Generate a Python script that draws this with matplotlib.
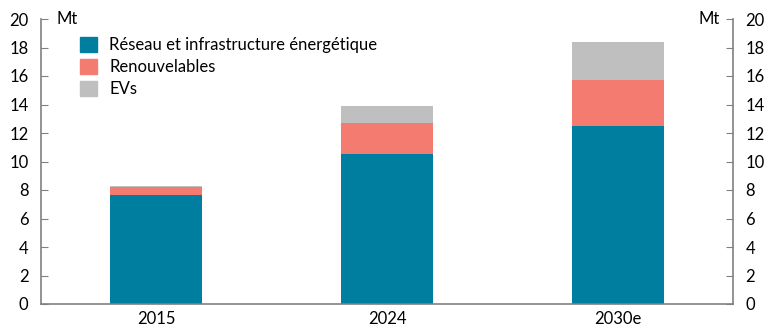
import matplotlib
matplotlib.use("Agg")
import matplotlib.pyplot as plt
from matplotlib.patches import Patch

plt.rcParams['font.family'] = ['Lato', 'DejaVu Sans']

categories = ["2015", "2024", "2030e"]
reseau = [7.65, 10.55, 12.5]
renouvelables = [0.55, 2.15, 3.25]
evs = [0.05, 1.2, 2.65]
labels = ["Réseau et infrastructure énergétique", "Renouvelables", "EVs"]
colors = ["#007EA0", "#F47B70", "#BFBFBF"]
yticks = list(range(0, 21, 2))

fig = plt.figure(figsize=(7.67, 3.27), dpi=100)
ax = fig.add_axes([41/767, 23/327, 692/767, 285/327])
x = list(range(len(categories)))
ax.bar(x, reseau, width=0.4, color=colors[0])
b2 = [r for r in reseau]
ax.bar(x, renouvelables, width=0.4, bottom=b2, color=colors[1])
b3 = [r + n for r, n in zip(reseau, renouvelables)]
ax.bar(x, evs, width=0.4, bottom=b3, color=colors[2])

ax.set_xlim(-0.5, 2.5)
ax.set_ylim(0, 20)
ax.set_xticks(x)
ax.set_xticklabels(categories, fontsize=12)
ax.set_yticks(yticks)
ax.tick_params(axis='x', length=0, pad=5)
ax.tick_params(axis='y', direction='in', length=5, color='#808080', labelsize=12,
               left=True, right=True, labelleft=True, labelright=True, pad=9)
for s in ['top']:
    ax.spines[s].set_visible(False)
for s in ['left', 'right', 'bottom']:
    ax.spines[s].set_color('#808080')
    ax.spines[s].set_linewidth(1.2)

ax.text(0.022, 1.0, "Mt", transform=ax.transAxes, fontsize=12, va='center', ha='left')
ax.text(0.981, 1.0, "Mt", transform=ax.transAxes, fontsize=12, va='center', ha='right')

handles = [Patch(color=c, label=l) for c, l in zip(colors, labels)]
ax.legend(handles=handles, loc='upper left', bbox_to_anchor=(0.035, 0.99), frameon=False,
          fontsize=12, handlelength=1.0, handleheight=1.0, handletextpad=0.75, labelspacing=0.35)

fig.savefig("out.png", dpi=100)
